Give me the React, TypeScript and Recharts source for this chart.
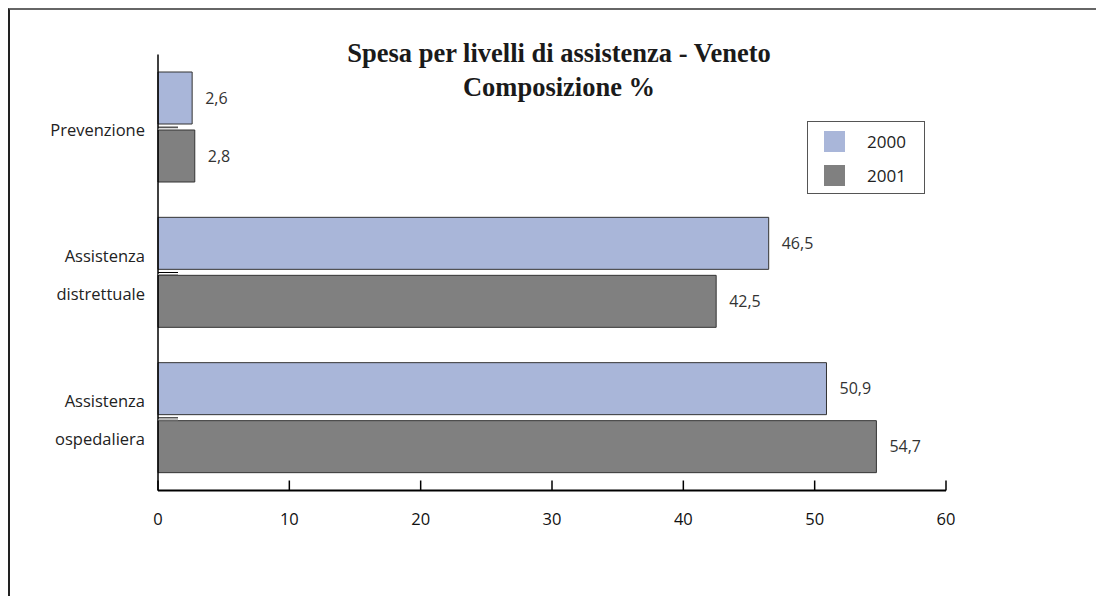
import { Bar, BarChart, LabelList, XAxis, YAxis } from "recharts";

const categories = ["Prevenzione", "Assistenza distrettuale", "Assistenza ospedaliera"];
const years = ["2000", "2001"];
const values2000 = [2.6, 46.5, 50.9];
const values2001 = [2.8, 42.5, 54.7];
const xTicks = [0, 10, 20, 30, 40, 50, 60];
const colors = ["#a9b6d9", "#808080"];

const data = categories.map((name, i) => ({
  name,
  y2000: values2000[i],
  y2001: values2001[i],
}));

const font = "'Open Sans', 'DejaVu Sans', sans-serif";

const fmt = (v: unknown) => String(v).replace(".", ",");

function XTick({ x, y, payload }: any) {
  return (
    <g>
      <line x1={x} x2={x} y1={y - 10} y2={y} stroke="#000" strokeWidth={1.5} />
      <text x={x} y={y + 28} textAnchor="middle" dominantBaseline="central" fontSize={16.5} fill="#111" fontFamily={font}>
        {payload.value}
      </text>
    </g>
  );
}

function YTick({ x, y, payload }: any) {
  const lines = String(payload.value).split(" ");
  return (
    <g>
      <line x1={x} x2={x + 20} y1={y} y2={y} stroke="#000" strokeWidth={1} />
      <line x1={x} x2={x + 20} y1={y + 2} y2={y + 2} stroke="#999" strokeWidth={1} />
      {lines.map((t, i) => (
        <text
          key={t}
          x={x - 13}
          y={y + (i - (lines.length - 1) / 2) * 38 + 2}
          textAnchor="end"
          dominantBaseline="central"
          fontSize={16.5}
          fill="#222"
          fontFamily={font}
        >
          {t}
        </text>
      ))}
    </g>
  );
}

export default function App() {
  return (
    <div style={{ position: "absolute", left: 0, top: 0, width: 1096, height: 596, background: "#fff", overflow: "hidden" }}>
      <div
        style={{
          position: "absolute",
          left: 8,
          top: 8,
          width: 1100,
          height: 600,
          borderTop: "2px solid #666",
          borderLeft: "2px solid #222",
        }}
      />
      <div
        style={{
          position: "absolute",
          left: 259,
          top: 36,
          width: 600,
          textAlign: "center",
          fontFamily: "'Liberation Serif', 'Times New Roman', serif",
          fontWeight: "bold",
          fontSize: 26.5,
          lineHeight: "34px",
          color: "#1a1a1a",
        }}
      >
        Spesa per livelli di assistenza - Veneto
        <br />
        Composizione %
      </div>
      <BarChart
        width={1096}
        height={596}
        data={data}
        layout="vertical"
        margin={{ top: 54.5, right: 150, bottom: 65.5, left: 0 }}
        barCategoryGap={17.5}
        barGap={6}
        style={{ position: "absolute", left: 0, top: 0 }}
      >
        <XAxis
          type="number"
          domain={[0, 60]}
          ticks={xTicks}
          interval={0}
          height={40}
          tickSize={0}
          tickMargin={0}
          tickLine={false}
          axisLine={{ stroke: "#000", strokeWidth: 2 }}
          tick={<XTick />}
        />
        <YAxis
          type="category"
          dataKey="name"
          width={158}
          tickSize={0}
          tickMargin={0}
          tickLine={false}
          axisLine={{ stroke: "#000", strokeWidth: 1.5 }}
          tick={<YTick />}
        />
        <Bar dataKey="y2000" name={years[0]} fill={colors[0]} stroke="#333" strokeWidth={1} isAnimationActive={false}>
          <LabelList dataKey="y2000" position="right" offset={13} formatter={fmt} fontSize={16} fill="#333" fontFamily={font} />
        </Bar>
        <Bar dataKey="y2001" name={years[1]} fill={colors[1]} stroke="#333" strokeWidth={1} isAnimationActive={false}>
          <LabelList dataKey="y2001" position="right" offset={13} formatter={fmt} fontSize={16} fill="#333" fontFamily={font} />
        </Bar>
      </BarChart>
      <div
        style={{
          position: "absolute",
          left: 807,
          top: 121,
          width: 116,
          height: 71,
          border: "1.5px solid #555",
          fontFamily: font,
          fontSize: 17,
          color: "#222",
        }}
      >
        {years.map((y, i) => (
          <div key={y} style={{ position: "absolute", left: 16, top: 8 + i * 34, display: "flex", alignItems: "center" }}>
            <span style={{ width: 21, height: 21, background: colors[i], display: "inline-block" }} />
            <span style={{ marginLeft: 22 }}>{y}</span>
          </div>
        ))}
      </div>
    </div>
  );
}
